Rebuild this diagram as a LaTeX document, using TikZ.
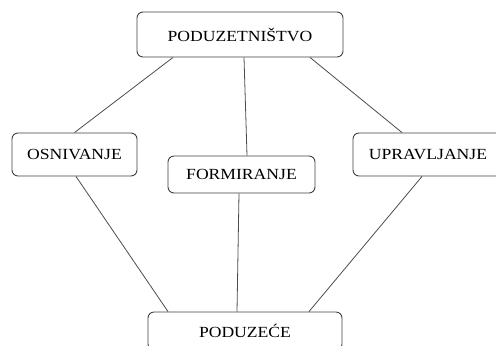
\documentclass[tikz,border=0pt]{standalone}
\usepackage{fontspec}
\setmainfont[FakeStretch=1.14]{Liberation Serif}
\usepackage{tikz}

\tikzset{
	box/.style={draw=black!75, rounded corners=6bp, line width=0.9bp, fill=white,
		inner sep=0pt, font=\fontsize{15.5}{18}\selectfont},
	link/.style={draw=black!70, line width=0.8bp}
}

\begin{document}
\begin{tikzpicture}[x=1bp, y=-1bp]
\clip (0,0) rectangle (496,345);

\node[box, minimum width=206bp, minimum height=45bp] (pod) at (240,34.5) {PODUZETNIŠTVO};
\node[box, minimum width=125bp, minimum height=43bp] (osn) at (74.5,154.5) {OSNIVANJE};
\node[box, minimum width=147bp, minimum height=37bp] (form) at (241.5,174.5) {FORMIRANJE};
\node[box, minimum width=150bp, minimum height=43bp] (upr) at (428,154.5) {UPRAVLJANJE};
\node[box, minimum width=194bp, minimum height=38bp] (firma) at (245,331) {PODUZEĆE};

\draw[link] ([xshift=-67bp]pod.south) -- (osn.north);
\draw[link] ([xshift=4bp]pod.south) -- ([xshift=5.5bp]form.north);
\draw[link] ([xshift=70bp]pod.south) -- ([xshift=-26bp]upr.north);

\draw[link] ([xshift=1.5bp]osn.south) -- ([xshift=-77bp]firma.north);
\draw[link] ([xshift=-2.5bp]form.south) -- ([xshift=-8bp]firma.north);
\draw[link] ([xshift=-6bp]upr.south) -- ([xshift=64bp]firma.north);

\end{tikzpicture}
\end{document}
